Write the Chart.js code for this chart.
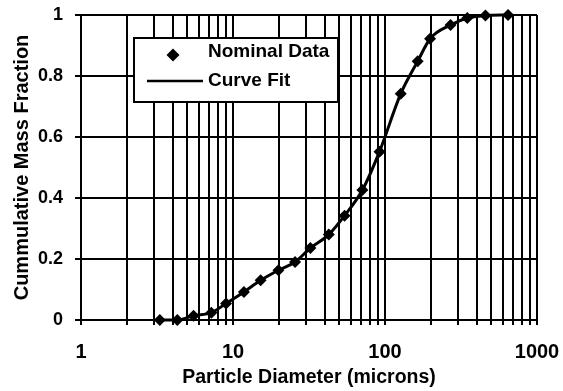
<!DOCTYPE html>
<html>
<head>
<meta charset="utf-8">
<script src="https://cdn.jsdelivr.net/npm/chart.js@4/dist/chart.umd.min.js"></script>
<style>
html,body{margin:0;padding:0;background:#fff;}
#wrap{width:563px;height:391px;}
</style>
</head>
<body>
<div id="wrap"><canvas id="c" width="563" height="391"></canvas></div>
<script>
// Data
const diameters = [3.3, 4.3, 5.5, 7.2, 9.0, 11.8, 15.2, 19.9, 25.6, 32.3, 42.7, 54.2, 71, 92, 127, 164, 198, 270, 348, 458, 645];
const fractions = [0, 0, 0.014, 0.024, 0.054, 0.092, 0.13, 0.163, 0.19, 0.236, 0.28, 0.342, 0.426, 0.552, 0.742, 0.848, 0.922, 0.967, 0.99, 0.998, 1.0];
const xTickLabels = [1, 10, 100, 1000];
const yTickLabels = ['0', '0.2', '0.4', '0.6', '0.8', '1'];
const seriesNames = ['Nominal Data', 'Curve Fit'];
const xTitle = 'Particle Diameter (microns)';
const yTitle = 'Cummulative Mass Fraction';

const points = diameters.map((d, i) => ({x: d, y: fractions[i]}));

// gridline positions for the log axis: 1..9 x each decade
const gridValues = [];
for (let k = 0; k < 3; k++) {
  for (let m = 1; m < 10; m++) gridValues.push(m * Math.pow(10, k));
}
gridValues.push(1000);

const FONT = 'Liberation Sans, Arial, sans-serif';

const legendPlugin = {
  id: 'boxLegend',
  afterDraw(chart) {
    const ctx = chart.ctx;
    ctx.save();
    const L = 134, T = 38, R = 338, B = 102;
    ctx.fillStyle = '#fff';
    ctx.fillRect(L, T, R - L, B - T);
    ctx.strokeStyle = '#000';
    ctx.lineWidth = 2;
    ctx.strokeRect(L, T, R - L, B - T);
    // diamond
    ctx.fillStyle = '#000';
    const cx = 173, cy = 55, r = 6.5;
    ctx.beginPath();
    ctx.moveTo(cx, cy - r); ctx.lineTo(cx + r, cy); ctx.lineTo(cx, cy + r); ctx.lineTo(cx - r, cy);
    ctx.closePath(); ctx.fill();
    // line
    ctx.beginPath();
    ctx.moveTo(147, 81); ctx.lineTo(203, 81);
    ctx.lineWidth = 2.5; ctx.stroke();
    ctx.font = 'bold 19px ' + FONT;
    ctx.textBaseline = 'middle';
    ctx.textAlign = 'left';
    ctx.fillText(seriesNames[0], 208, 52);
    ctx.fillText(seriesNames[1], 208, 81);
    ctx.restore();
  }
};

new Chart(document.getElementById('c'), {
  type: 'scatter',
  data: {
    datasets: [
      {
        label: seriesNames[0],
        data: points,
        pointStyle: 'rectRot',
        pointRadius: 6,
        pointBackgroundColor: '#000',
        pointBorderColor: '#000',
        pointBorderWidth: 0,
        showLine: false,
        clip: false,
        order: 0
      },
      {
        label: seriesNames[1],
        type: 'line',
        data: points,
        borderColor: '#000',
        borderWidth: 3,
        pointRadius: 0,
        fill: false,
        cubicInterpolationMode: 'monotone',
        clip: false,
        order: 1
      }
    ]
  },
  options: {
    responsive: false,
    animation: false,
    devicePixelRatio: 1,
    layout: {padding: {top: 15, right: 26, left: 0, bottom: 0}},
    plugins: {legend: {display: false}, tooltip: {enabled: false}},
    scales: {
      x: {
        type: 'logarithmic',
        min: 1, max: 1000,
        afterBuildTicks(scale) {
          scale.ticks = gridValues.map(v => ({value: v}));
        },
        afterFit(scale) { scale.height = 71; scale.paddingLeft = 0; scale.paddingRight = 0; },
        ticks: {
          autoSkip: false, maxRotation: 0, minRotation: 0,
          color: '#000',
          font: {family: FONT, size: 20, weight: 'bold'},
          padding: 15,
          callback(v) { return xTickLabels.includes(v) ? String(v) : ''; }
        },
        grid: {color: '#000', lineWidth: 2, tickLength: 5, drawTicks: true},
        border: {color: '#000', width: 2},
        title: {display: true, text: xTitle, color: '#000',
          font: {family: FONT, size: 19.5, weight: 'bold'}, padding: {top: 0, bottom: 2}}
      },
      y: {
        min: 0, max: 1,
        afterFit(scale) { scale.width = 81; scale.paddingTop = 0; scale.paddingBottom = 0; },
        ticks: {
          stepSize: 0.2,
          color: '#000',
          font: {family: FONT, size: 18, weight: 'bold'},
          padding: 12,
          callback(v) { const i = Math.round(v / 0.2); return yTickLabels[i] !== undefined ? yTickLabels[i] : ''; }
        },
        grid: {color: '#000', lineWidth: 2, tickLength: 6, drawTicks: true},
        border: {color: '#000', width: 2},
        title: {display: true, text: yTitle, color: '#000',
          font: {family: FONT, size: 20, weight: 'bold'}, padding: {top: 10, bottom: 0}}
      }
    }
  },
  plugins: [legendPlugin]
});
</script>
</body>
</html>
